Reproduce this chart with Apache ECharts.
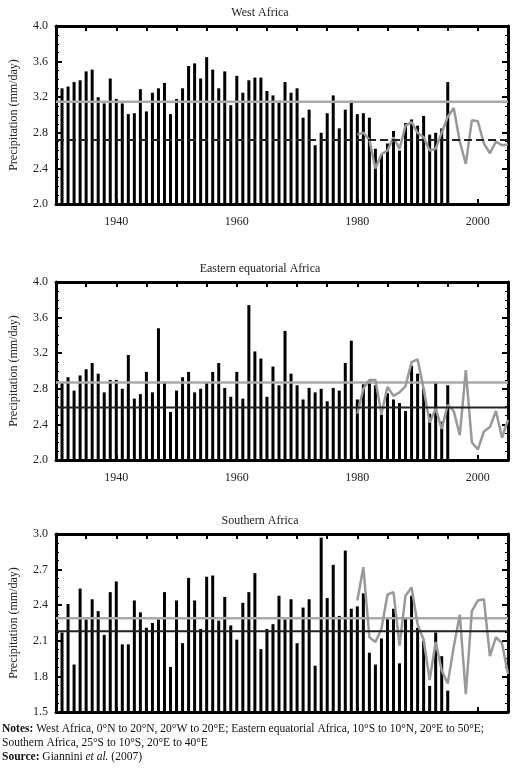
<!DOCTYPE html>
<html><head><meta charset="utf-8">
<script src="https://cdn.jsdelivr.net/npm/echarts@6/dist/echarts.min.js"></script>
<style>body{margin:0;background:#fff}#c{width:520px;height:770px}</style>
</head><body><div id="c"></div>
<script>
const titles = ['West Africa','Eastern equatorial Africa','Southern Africa'];
const barYears = []; for (let y=1931;y<=1995;y++) barYears.push(y);
const lineYears = []; for (let y=1980;y<=2005;y++) lineYears.push(y);
const westBars = [3.30,3.32,3.37,3.39,3.49,3.51,3.20,3.13,3.41,3.18,3.13,3.01,3.02,3.29,3.04,3.25,3.30,3.36,3.01,3.18,3.30,3.55,3.58,3.41,3.65,3.51,3.30,3.49,3.11,3.44,3.25,3.39,3.42,3.42,3.27,3.22,3.16,3.37,3.25,3.30,2.97,3.06,2.66,2.80,3.02,3.22,2.85,3.06,3.16,3.01,3.02,2.97,2.62,2.55,2.68,2.82,2.60,2.91,2.95,2.88,2.99,2.78,2.80,2.85,3.37];
const westLine = [2.78,2.80,2.72,2.40,2.56,2.60,2.75,2.62,2.88,2.92,2.80,2.75,2.60,2.62,2.80,2.98,3.08,2.70,2.45,2.94,2.93,2.68,2.57,2.70,2.66,2.67];
const eastBars = [2.87,2.93,2.78,2.95,3.02,3.09,2.97,2.76,2.90,2.90,2.80,3.18,2.69,2.74,2.99,2.76,3.48,2.87,2.54,2.78,2.93,2.99,2.76,2.80,2.87,2.99,3.09,2.81,2.71,2.99,2.69,3.74,3.22,3.14,2.71,3.05,2.84,3.45,2.97,2.84,2.68,2.81,2.76,2.80,2.66,2.81,2.78,3.09,3.34,2.68,2.85,2.90,2.84,2.51,2.75,2.68,2.64,2.55,3.06,2.97,2.80,2.52,2.87,2.43,2.84];
const eastLine = [2.52,2.80,2.90,2.90,2.52,2.82,2.72,2.76,2.83,3.10,3.13,2.80,2.42,2.58,2.35,2.62,2.55,2.28,3.01,2.20,2.12,2.32,2.37,2.55,2.25,2.45];
const southBars = [2.17,2.41,1.90,2.54,2.28,2.45,2.35,2.15,2.51,2.60,2.07,2.07,2.44,2.34,2.21,2.25,2.28,2.51,1.88,2.44,2.08,2.63,2.44,2.20,2.64,2.65,2.27,2.47,2.23,2.11,2.42,2.51,2.67,2.03,2.20,2.24,2.48,2.28,2.45,2.08,2.38,2.45,1.89,2.97,2.46,2.74,2.31,2.86,2.37,2.39,2.50,2.00,1.90,2.12,2.29,2.37,1.91,2.29,2.48,2.21,2.10,1.72,2.17,1.97,1.68];
const southLine = [2.44,2.72,2.13,2.09,2.20,2.49,2.51,2.06,2.48,2.55,2.24,2.11,1.77,2.09,1.85,1.74,2.05,2.32,1.65,2.35,2.44,2.45,1.97,2.13,2.08,1.82];
const greyMeans = [3.15,2.87,2.29];
const blackMeans = [2.72,2.59,2.18];
const yMin = [2.0,2.0,1.5], yMax = [4.0,4.0,3.0], yStep = [0.4,0.4,0.3];
const xLabels = [1940,1960,1980,2000];

const bars=[westBars,eastBars,southBars], lines=[westLine,eastLine,southLine];
const tops=[26,282,534], h=178;
const F='"Liberation Serif", serif';
const grid=[],xAxis=[],yAxis=[],series=[],title=[];
for(let i=0;i<3;i++){
  grid.push({left:55,right:12,top:tops[i],height:h});
  title.push({text:titles[i],left:'center',top:tops[i]-24,textStyle:{fontFamily:F,fontSize:12,fontWeight:'normal',color:'#222'}});
  const ax={type:'value',min:1930,max:2005,interval:5,gridIndex:i,
    axisLine:{show:true,onZero:false,lineStyle:{color:'#000',width:3}},
    axisTick:{show:true,inside:true,length:5,lineStyle:{color:'#000',width:2}},
    splitLine:{show:false}};
  xAxis.push(Object.assign({},ax,{position:'bottom',
    axisLabel:{show:i<2,fontFamily:F,fontSize:12,color:'#222',margin:12,
      formatter:v=>xLabels.includes(v)?String(v):''}}));
  xAxis.push(Object.assign({},ax,{position:'top',axisLabel:{show:false}}));
  const ay={type:'value',min:yMin[i],max:yMax[i],interval:yStep[i],gridIndex:i,
    axisLine:{show:true,lineStyle:{color:'#000',width:3}},
    axisTick:{show:true,inside:true,length:6,lineStyle:{color:'#000',width:2}},
    minorTick:{show:true,splitNumber:4,length:3,lineStyle:{color:'#000'}},
    splitLine:{show:false}};
  yAxis.push(Object.assign({},ay,{position:'left',name:'Precipitation (mm/day)',nameLocation:'middle',nameGap:36,
    nameTextStyle:{fontFamily:F,fontSize:12,color:'#222'},
    axisLabel:{fontFamily:F,fontSize:12,color:'#222',formatter:v=>v.toFixed(1)}}));
  yAxis.push(Object.assign({},ay,{position:'right',axisLabel:{show:false}}));
  series.push({type:'bar',xAxisIndex:2*i,yAxisIndex:2*i,barWidth:3,itemStyle:{color:'#000'},
    data:barYears.map((y,k)=>[y,bars[i][k]]),silent:true});
  series.push({type:'line',xAxisIndex:2*i,yAxisIndex:2*i,showSymbol:false,z:4,
    lineStyle:{color:'#999',width:2.5},data:lineYears.map((y,k)=>[y,lines[i][k]]),silent:true});
  series.push({type:'line',xAxisIndex:2*i,yAxisIndex:2*i,showSymbol:false,z:3,
    lineStyle:{color:'#aaa',width:2.5},data:[[1930,greyMeans[i]],[2005,greyMeans[i]]],silent:true});
  series.push({type:'line',xAxisIndex:2*i,yAxisIndex:2*i,showSymbol:false,z:5,
    lineStyle:{color:'#222',width:2,type:i==0?'dashed':'solid'},data:[[1930,blackMeans[i]],[2005,blackMeans[i]]],silent:true});
}
const chart=echarts.init(document.getElementById('c'));
chart.setOption({animation:false,title,grid,xAxis,yAxis,series,
 graphic:[{type:'text',left:2,top:722,style:{rich:{b:{fontWeight:'bold',fontFamily:F,fontSize:11.5},n:{fontFamily:F,fontSize:11.5},i:{fontStyle:'italic',fontFamily:F,fontSize:11.5}},
  text:'{b|Notes:}{n| West Africa, 0°N to 20°N, 20°W to 20°E; Eastern equatorial Africa, 10°S to 10°N, 20°E to 50°E;}\n{n|Southern Africa, 25°S to 10°S, 20°E to 40°E}\n{b|Source:}{n| Giannini }{i|et al.}{n| (2007)}',
  lineHeight:14,fill:'#111',fontFamily:F,fontSize:11.5}}]});
</script></body></html>
